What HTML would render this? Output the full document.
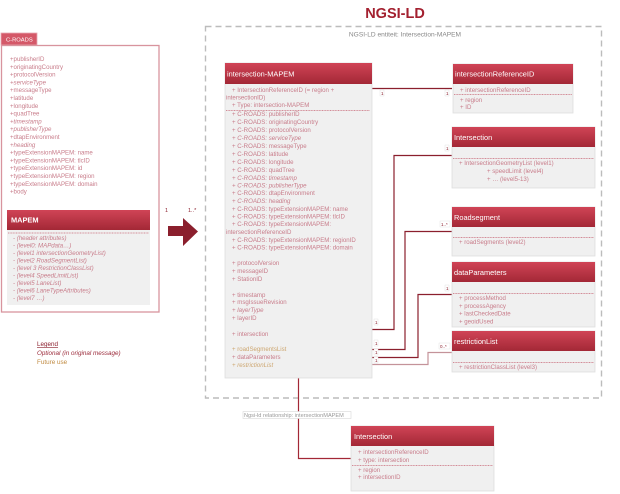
<!DOCTYPE html>
<html><head><meta charset="utf-8"><style>
html,body{margin:0;padding:0;background:#fff;}
svg{display:block;font-family:"Liberation Sans",sans-serif;}
.a{font-size:6.1px;fill:#c87c8a;}
.i{font-style:italic;}
.g{fill:#cda670;}
.h{font-size:7.4px;fill:#fff;}
.s{stroke:#c86a7a;stroke-width:0.8;stroke-dasharray:1 0.6;}
.m{font-size:5.5px;fill:#8b1f2d;}
</style></head><body>
<svg width="620" height="494" viewBox="0 0 620 494" xmlns="http://www.w3.org/2000/svg">
<defs>
<linearGradient id="hg" x1="0" y1="0" x2="0" y2="1">
<stop offset="0" stop-color="#d04456"/><stop offset="1" stop-color="#a32836"/>
</linearGradient>
</defs>

<!-- C-ROADS -->
<rect x="1" y="33" width="36" height="12" fill="#d45868" stroke="#e6a9b2" stroke-width="0.8"/>
<text x="6" y="41.5" font-size="5.8" fill="#fff">C-ROADS</text>
<rect x="1.5" y="45.5" width="157.5" height="266.5" fill="#fff" stroke="#d8949e" stroke-width="1.3"/>
<g class="a">
<text x="10" y="61">+publisherID</text>
<text x="10" y="68.8">+originatingCountry</text>
<text x="10" y="76.6">+protocolVersion</text>
<text x="10" y="84.4" class="a i">+serviceType</text>
<text x="10" y="92.2">+messageType</text>
<text x="10" y="100">+latitude</text>
<text x="10" y="107.8">+longitude</text>
<text x="10" y="115.6">+quadTree</text>
<text x="10" y="123.4" class="a i">+timestamp</text>
<text x="10" y="131.2" class="a i">+publisherType</text>
<text x="10" y="139">+dtapEnvironment</text>
<text x="10" y="146.8" class="a i">+heading</text>
<text x="10" y="154.6">+typeExtensionMAPEM: name</text>
<text x="10" y="162.4">+typeExtensionMAPEM: tlcID</text>
<text x="10" y="170.2">+typeExtensionMAPEM: id</text>
<text x="10" y="178">+typeExtensionMAPEM: region</text>
<text x="10" y="185.8">+typeExtensionMAPEM: domain</text>
<text x="10" y="193.6">+body</text>
</g>

<!-- MAPEM -->
<rect x="7" y="210" width="143" height="95" fill="#f0f0f0"/>
<rect x="7" y="210" width="143" height="20" fill="url(#hg)"/>
<text x="11" y="222.5" class="h" font-weight="bold" font-size="6.8">MAPEM</text>
<line x1="8" y1="233" x2="149" y2="233" class="s"/>
<g class="a i">
<text x="13" y="240">- (header attributes)</text>
<text x="13" y="247.5">- (level0: MAPdata…)</text>
<text x="13" y="255">- (level1 intersectionGeometryList)</text>
<text x="13" y="262.5">- (level2 RoadSegmentList)</text>
<text x="13" y="270">- (level 3 RestrictionClassList)</text>
<text x="13" y="277.5">- (level4 SpeedLimitList)</text>
<text x="13" y="285">- (level5 LaneList)</text>
<text x="13" y="292.5">- (level6 LaneTypeAttributes)</text>
<text x="13" y="300">- (level7 …)</text>
</g>

<!-- Legend -->
<text x="37" y="346" font-size="6.3" fill="#8b1f2d" text-decoration="underline">Legend</text>
<text x="37" y="355" font-size="6.3" fill="#9b2a3a" font-style="italic">Optional (in original message)</text>
<text x="37" y="364" font-size="6.3" fill="#c08a40">Future use</text>

<!-- Arrow -->
<text x="165" y="212" class="m">1</text>
<text x="188" y="212" class="m">1..*</text>
<polygon points="168,226 183,226 183,218 198,231.5 183,246 183,236 168,236" fill="#8b1f2d"/>

<!-- Title -->
<text x="395" y="18" text-anchor="middle" font-size="14.5" font-weight="bold" fill="#a3202f">NGSI-LD</text>

<!-- Dashed box -->
<rect x="205.5" y="26.5" width="396" height="371.5" fill="none" stroke="#bcbcbc" stroke-width="1.4" stroke-dasharray="6 4"/>
<text x="405" y="36.5" text-anchor="middle" font-size="6.6" fill="#888">NGSI-LD entiteit: Intersection-MAPEM</text>

<!-- Connectors -->
<g fill="none" stroke-width="1.2">
<polyline points="370,88.5 452,88.5" stroke="#8b1f2d"/>
<polyline points="370,329.5 394,329.5 394,155.5 452,155.5" stroke="#8b1f2d"/>
<polyline points="370,349.5 405,349.5 405,231.5 452,231.5" stroke="#8b1f2d"/>
<polyline points="370,357.5 418,357.5 418,294.5 452,294.5" stroke="#8b1f2d"/>
<polyline points="370,364.5 428,364.5 428,352.5 452,352.5" stroke="#c4939a"/>
<polyline points="298.5,378 298.5,458.5 351,458.5" stroke="#a32836"/>
</g>
<g font-size="4.5" fill="#8b1f2d">
<rect x="380" y="90" width="4" height="6" fill="#fff" stroke="#ddd" stroke-width="0.4"/><text x="381" y="95">1</text>
<rect x="445" y="90" width="4" height="6" fill="#fff" stroke="#ddd" stroke-width="0.4"/><text x="446" y="95">1</text>
<rect x="445" y="145" width="4" height="6" fill="#fff" stroke="#ddd" stroke-width="0.4"/><text x="446" y="150">1</text>
<rect x="440" y="221" width="10" height="6" fill="#fff" stroke="#ddd" stroke-width="0.4"/><text x="441" y="226">1..*</text>
<rect x="445" y="285" width="4" height="6" fill="#fff" stroke="#ddd" stroke-width="0.4"/><text x="446" y="290">1</text>
<rect x="439" y="343" width="11" height="6" fill="#fff" stroke="#ddd" stroke-width="0.4"/><text x="440" y="348">0..*</text>
<rect x="374" y="319" width="4" height="6" fill="#fff" stroke="#ddd" stroke-width="0.4"/><text x="375" y="324">1</text>
<rect x="374" y="340" width="4" height="6" fill="#fff" stroke="#ddd" stroke-width="0.4"/><text x="375" y="345">1</text>
<rect x="374" y="349" width="4" height="6" fill="#fff" stroke="#ddd" stroke-width="0.4"/><text x="375" y="354">1</text>
<rect x="374" y="357" width="4" height="6" fill="#fff" stroke="#ddd" stroke-width="0.4"/><text x="375" y="362">1</text>
</g>

<!-- intersection-MAPEM -->
<rect x="225" y="63" width="147" height="315" fill="#f0f0f0" stroke="#dedede" stroke-width="0.8"/>
<rect x="225" y="63" width="147" height="21" fill="url(#hg)"/>
<text x="227" y="76.5" class="h">intersection-MAPEM</text>
<g class="a">
<text x="232" y="92">+ IntersectionReferenceID (= region +</text>
<text x="226" y="99.5">intersectionID)</text>
<text x="232" y="107">+ Type: intersection-MAPEM</text>
</g>
<line x1="226" y1="110.5" x2="370" y2="110.5" class="s"/>
<g class="a">
<text x="232" y="116">+ C-ROADS: publisherID</text>
<text x="232" y="124">+ C-ROADS: originatingCountry</text>
<text x="232" y="132">+ C-ROADS: protocolVersion</text>
<text x="232" y="140" class="a i">+ C-ROADS: serviceType</text>
<text x="232" y="148">+ C-ROADS: messageType</text>
<text x="232" y="156">+ C-ROADS: latitude</text>
<text x="232" y="164">+ C-ROADS: longitude</text>
<text x="232" y="172">+ C-ROADS: quadTree</text>
<text x="232" y="180" class="a i">+ C-ROADS: timestamp</text>
<text x="232" y="187.5" class="a i">+ C-ROADS: publisherType</text>
<text x="232" y="195">+ C-ROADS: dtapEnvironment</text>
<text x="232" y="203" class="a i">+ C-ROADS: heading</text>
<text x="232" y="211">+ C-ROADS: typeExtensionMAPEM: name</text>
<text x="232" y="218.5">+ C-ROADS: typeExtensionMAPEM: tlcID</text>
<text x="232" y="226">+ C-ROADS: typeExtensionMAPEM:</text>
<text x="226" y="234">intersectionReferenceID</text>
<text x="232" y="242">+ C-ROADS: typeExtensionMAPEM: regionID</text>
<text x="232" y="249.5">+ C-ROADS: typeExtensionMAPEM: domain</text>
<text x="232" y="265">+ protocolVersion</text>
<text x="232" y="273">+ messageID</text>
<text x="232" y="281">+ StationID</text>
<text x="232" y="297">+ timestamp</text>
<text x="232" y="304">+ msgIssueRevision</text>
<text x="232" y="312" class="a i">+ layerType</text>
<text x="232" y="320">+ layerID</text>
<text x="232" y="336">+ intersection</text>
<text x="232" y="351" class="a g">+ roadSegmentsList</text>
<text x="232" y="359">+ dataParameters</text>
<text x="232" y="367" class="a g i">+ restrictionList</text>
</g>

<!-- intersectionReferenceID -->
<rect x="453" y="64" width="120" height="49" fill="#f0f0f0" stroke="#dedede" stroke-width="0.8"/>
<rect x="453" y="64" width="120" height="20" fill="url(#hg)"/>
<text x="455" y="76.5" class="h">intersectionReferenceID</text>
<text x="460" y="92" class="a">+ intersectionReferenceID</text>
<line x1="454" y1="94.5" x2="572" y2="94.5" class="s"/>
<text x="460" y="102" class="a">+ region</text>
<text x="460" y="109" class="a">+ ID</text>

<!-- Intersection -->
<rect x="452" y="127" width="143" height="61" fill="#f0f0f0" stroke="#dedede" stroke-width="0.8"/>
<rect x="452" y="127" width="143" height="20" fill="url(#hg)"/>
<text x="454" y="140" class="h">Intersection</text>
<line x1="453" y1="158.5" x2="594" y2="158.5" class="s"/>
<text x="459" y="165" class="a">+ IntersectionGeometryList (level1)</text>
<text x="487" y="173" class="a">+ speedLimit (level4)</text>
<text x="487" y="181" class="a">+ … (level5-13)</text>

<!-- Roadsegment -->
<rect x="452" y="207" width="143" height="49" fill="#f0f0f0" stroke="#dedede" stroke-width="0.8"/>
<rect x="452" y="207" width="143" height="20" fill="url(#hg)"/>
<text x="454" y="220" class="h">Roadsegment</text>
<line x1="453" y1="237.5" x2="594" y2="237.5" class="s"/>
<text x="459" y="244" class="a">+ roadSegments (level2)</text>

<!-- dataParameters -->
<rect x="452" y="262" width="143" height="65" fill="#f0f0f0" stroke="#dedede" stroke-width="0.8"/>
<rect x="452" y="262" width="143" height="20" fill="url(#hg)"/>
<text x="454" y="275" class="h">dataParameters</text>
<line x1="453" y1="293.5" x2="594" y2="293.5" class="s"/>
<text x="459" y="300" class="a">+ processMethod</text>
<text x="459" y="308" class="a">+ processAgency</text>
<text x="459" y="315.5" class="a">+ lastCheckedDate</text>
<text x="459" y="323.5" class="a">+ geoidUsed</text>

<!-- restrictionList -->
<rect x="452" y="331" width="143" height="41" fill="#f0f0f0" stroke="#dedede" stroke-width="0.8"/>
<rect x="452" y="331" width="143" height="20" fill="url(#hg)"/>
<text x="454" y="344" class="h">restrictionList</text>
<line x1="453" y1="362.5" x2="594" y2="362.5" class="s"/>
<text x="459" y="369" class="a">+ restrictionClassList (level3)</text>

<!-- relationship label -->
<rect x="243" y="411.5" width="108" height="7" fill="#fff" stroke="#d8d8d8" stroke-width="0.6"/>
<text x="244" y="417" font-size="5.6" fill="#999">Ngsi-ld relationship: intersectionMAPEM</text>

<!-- bottom Intersection -->
<rect x="351" y="426" width="143" height="65" fill="#f0f0f0" stroke="#dedede" stroke-width="0.8"/>
<rect x="351" y="426" width="143" height="20" fill="url(#hg)"/>
<text x="354" y="439" class="h">Intersection</text>
<text x="358" y="454" class="a">+ intersectionReferenceID</text>
<text x="358" y="462" class="a">+ type: intersection</text>
<line x1="352" y1="465.5" x2="493" y2="465.5" class="s"/>
<text x="358" y="472" class="a">+ region</text>
<text x="358" y="479" class="a">+ intersectionID</text>
</svg>
</body></html>
